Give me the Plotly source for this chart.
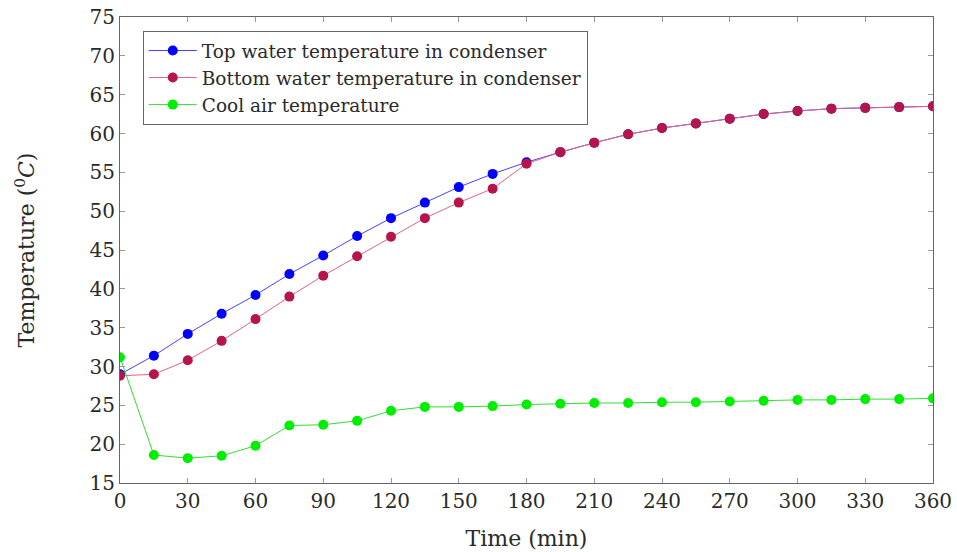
import plotly.graph_objects as go

time_min = [0, 15, 30, 45, 60, 75, 90, 105, 120, 135, 150, 165, 180, 195, 210,
            225, 240, 255, 270, 285, 300, 315, 330, 345, 360]
top_water = [29.0, 31.4, 34.2, 36.8, 39.2, 41.9, 44.3, 46.8, 49.1, 51.1, 53.1, 54.8,
             56.3, 57.6, 58.8, 59.9, 60.7, 61.3, 61.9, 62.5, 62.9, 63.2, 63.3, 63.4, 63.5]
bottom_water = [28.8, 29.0, 30.8, 33.3, 36.1, 39.0, 41.7, 44.2, 46.7, 49.1, 51.1, 52.9,
                56.1, 57.6, 58.8, 59.9, 60.7, 61.3, 61.9, 62.5, 62.9, 63.2, 63.3, 63.4, 63.5]
cool_air = [31.2, 18.6, 18.2, 18.5, 19.8, 22.4, 22.5, 23.0, 24.3, 24.8, 24.8, 24.9,
            25.1, 25.2, 25.3, 25.3, 25.4, 25.4, 25.5, 25.6, 25.7, 25.7, 25.8, 25.8, 25.9]
names = ["Top water temperature in condenser",
         "Bottom water temperature in condenser",
         "Cool air temperature"]
x_ticks = list(range(0, 361, 30))
y_ticks = list(range(15, 76, 5))

FONT = "DejaVu Serif"
TXT = "#2a2a2a"

fig = go.Figure()
fig.add_trace(go.Scatter(x=time_min, y=top_water, name=names[0], mode="lines+markers",
                         line=dict(color="#4444ff", width=1),
                         marker=dict(color="#0000ff", size=10, symbol="circle")))
fig.add_trace(go.Scatter(x=time_min, y=bottom_water, name=names[1], mode="lines+markers",
                         line=dict(color="#e8608a", width=1),
                         marker=dict(color="#b5154a", size=10, symbol="circle")))
fig.add_trace(go.Scatter(x=time_min, y=cool_air, name=names[2], mode="lines+markers",
                         line=dict(color="#33dd33", width=1),
                         marker=dict(color="#00ee00", size=10, symbol="circle")))

axis_common = dict(showgrid=False, zeroline=False, showline=True, linecolor="#666666",
                   linewidth=1, mirror="allticks", ticks="inside", ticklen=5,
                   tickcolor="#999999", automargin=False,
                   tickfont=dict(family=FONT, size=20, color=TXT))

fig.update_xaxes(range=[0, 360], tickvals=x_ticks,
                 title=dict(text="Time (min)", font=dict(family=FONT, size=22, color=TXT),
                            standoff=18),
                 **axis_common)
fig.update_yaxes(range=[15, 75], tickvals=y_ticks,
                 title=dict(text="Temperature (<sup>0</sup><i>C</i>)",
                            font=dict(family=FONT, size=22, color=TXT), standoff=48),
                 **axis_common)

fig.update_layout(
    width=957, height=552,
    margin=dict(l=120, r=24, t=17, b=69),
    plot_bgcolor="white", paper_bgcolor="white",
    font=dict(family=FONT, size=20, color=TXT),
    legend=dict(x=0.028, y=0.97, xanchor="left", yanchor="top",
                bordercolor="#666666", borderwidth=1, bgcolor="white",
                font=dict(family=FONT, size=18.5, color=TXT),
                itemwidth=48, tracegroupgap=0),
)

fig.write_html("out.html")
